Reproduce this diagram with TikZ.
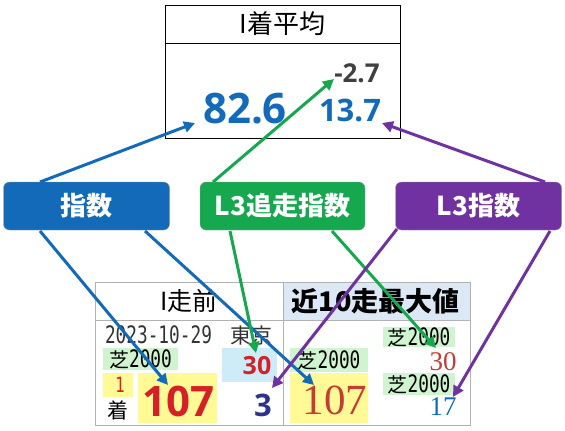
\documentclass[tikz,border=0pt]{standalone}
\usepackage{fontspec}
\setmainfont{Noto Sans CJK JP}
\newfontfamily\numfont{Open Sans}
\newfontfamily\serfont{Liberation Serif}
\newfontfamily\gothnum{DejaVu Sans Mono}[FakeStretch=0.74]
\usetikzlibrary{arrows.meta,shapes}
\definecolor{idxblue}{RGB}{18,106,184}
\definecolor{trkgreen}{RGB}{22,168,78}
\definecolor{lthpurple}{RGB}{112,50,160}
\definecolor{hdrblue}{RGB}{220,232,245}
\definecolor{pgreen}{RGB}{208,244,208}
\definecolor{pyellow}{RGB}{255,250,150}
\definecolor{pblue}{RGB}{205,236,248}
\definecolor{numred}{RGB}{214,32,40}
\definecolor{serred}{RGB}{196,60,52}
\definecolor{navy}{RGB}{46,50,140}
\newcommand{\turf}{芝{\gothnum\fontsize{24}{24}\selectfont 2000}}
\tikzstyle{frame cell}=[draw=black,line width=0.8pt,inner sep=0pt,minimum width=235pt]
\tikzstyle{table cell}=[draw=black!30,line width=1pt,inner sep=0pt]
\tikzstyle{label box}=[draw=black!40,rounded corners=6pt,minimum width=166pt,minimum height=48pt,text=white,font=\fontsize{26}{26}\selectfont\bfseries]
\tikzstyle{patch}=[inner sep=0pt]
\tikzstyle{txt}=[inner sep=0pt]
\tikzstyle{jp}=[txt,font=\fontsize{20}{20}\selectfont]
\tikzstyle{link}=[line width=3pt,-{Triangle[length=11pt,width=11pt]}]

\begin{document}
\begin{tikzpicture}[x=1pt,y=-1pt]
    \useasboundingbox (0,0) rectangle (565,431);

    % Average box
    \node[frame cell, minimum height=38pt] (ttl) at (282.5,24) {};
    \node[frame cell, minimum height=95pt] (avg) at (282.5,90.5) {};
    \node[txt, font=\fontsize{26}{26}\selectfont] at (ttl) {I着平均};
    \node[txt, text=idxblue, font=\numfont\fontsize{42}{42}\selectfont\bfseries] (v_idx) at (245,109) {82.6};
    \node[txt, text=black!75, font=\numfont\fontsize{26}{26}\selectfont\bfseries] (v_trk) at (357,73) {-2.7};
    \node[txt, text=idxblue, font=\numfont\fontsize{31}{31}\selectfont\bfseries] (v_lth) at (350,110) {13.7};

    % Index boxes
    \node[label box, fill=idxblue] (idx) at (86.5,206) {指数};
    \node[label box, fill=trkgreen, minimum width=165pt] (trk) at (282.5,206) {L3追走指数};
    \node[label box, fill=lthpurple] (lth) at (478.5,206) {L3指数};

    % Table
    \node[table cell, minimum width=188pt, minimum height=38pt] (hd_prev) at (189,301) {};
    \node[table cell, fill=hdrblue, minimum width=187pt, minimum height=38pt] (hd_max) at (376.5,301) {};
    \node[table cell, minimum width=188pt, minimum height=105pt] (bd_prev) at (189,372.5) {};
    \node[table cell, minimum width=187pt, minimum height=105pt] (bd_max) at (376.5,372.5) {};
    \node[txt, font=\fontsize{25}{25}\selectfont] at (hd_prev) {I走前};
    \node[txt, font=\fontsize{27}{27}\selectfont\bfseries] at (375.5,301) {近10走最大値};

    % Colour patches
    \foreach \pos/\w/\h/\col/\name in {{(140.5,359)/75/22/pgreen/pg_a}, {(118,385)/30/24/pyellow/py_a},
                                       {(177.5,398)/79/50/pyellow/py_b}, {(249.5,365)/55/34/pblue/pb_a},
                                       {(329,360)/78/24/pgreen/pg_b}, {(329,398)/78/50/pyellow/py_c},
                                       {(419,337)/72/20/pgreen/pg_c}, {(419,384)/72/22/pgreen/pg_d}}
        \node[patch, fill=\col, minimum width=\w pt, minimum height=\h pt] (\name) at \pos {};

    % Previous race
    \node[txt, text=black!80, font=\gothnum\fontsize{24}{24}\selectfont] (date) at (158.5,335) {2023-10-29};
    \node[jp, text=black!80, font=\fontsize{21}{21}\selectfont] (place) at (251,336) {東京};
    \foreach \name in {pg_a, pg_b, pg_c, pg_d}
        \node[jp] at (\name) {\turf};
    \node[txt, text=numred, font=\gothnum\fontsize{21}{21}\selectfont] (rank) at (120,385) {1};
    \node[jp, font=\fontsize{21}{21}\selectfont] (chaku) at (118,410) {着};
    \node[txt, text=numred, font=\numfont\fontsize{42}{42}\selectfont\bfseries] (p_idx) at (178,401) {107};
    \node[txt, text=numred, font=\numfont\fontsize{25}{25}\selectfont\bfseries] (p_trk) at (257,366) {30};
    \node[txt, text=navy, font=\numfont\fontsize{31}{31}\selectfont\bfseries] (p_lth) at (263,405) {3};

    % Best of last 10
    \node[txt, text=serred, font=\serfont\fontsize{43}{43}\selectfont] (m_idx) at (335,400) {107};
    \node[txt, text=serred, font=\serfont\fontsize{27}{27}\selectfont] (m_trk) at (443,362) {30};
    \node[txt, text=idxblue, font=\serfont\fontsize{27}{27}\selectfont] (m_lth) at (443,407) {17};

    % Arrow ends
    \foreach \pos/\name in {{(40,182)/a1}, {(40,231)/a2}, {(145,231)/a3},
                            {(213,182)/b1}, {(230,231)/b2}, {(332,231)/b3},
                            {(545,182)/c1}, {(397,229)/c2}, {(550,231)/c3},
                            {(195,123)/ta}, {(334,79)/tb}, {(382,123)/tc},
                            {(168,385)/pa}, {(256,353)/pb}, {(272,388)/pc},
                            {(314,385)/ma}, {(436,348)/mb}, {(453,397)/mc}}
        \path \pos coordinate (\name);

    % Links
    \foreach \source/\dest/\col in {a1/ta/idxblue, a2/pa/idxblue, a3/ma/idxblue,
                                    b1/tb/trkgreen, b2/pb/trkgreen, b3/mb/trkgreen,
                                    c1/tc/lthpurple, c2/pc/lthpurple, c3/mc/lthpurple}
        \draw[link, \col] (\source) -- (\dest);

\end{tikzpicture}
\end{document}
